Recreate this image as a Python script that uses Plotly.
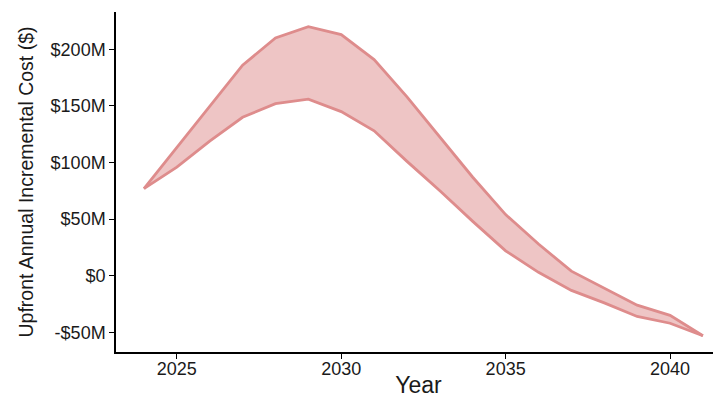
import plotly.graph_objects as go

years = list(range(2024, 2042))
upper = [77, 113, 149, 186, 210, 220, 213, 191, 158, 123, 87, 54, 28, 4, -11, -26, -35, -53]
lower = [77, 96, 119, 140, 152, 156, 145, 128, 101, 75, 48, 22, 3, -13, -24, -36, -42, -53]
ytick_vals = [-50, 0, 50, 100, 150, 200]
ytick_text = ["-$50M", "$0", "$50M", "$100M", "$150M", "$200M"]
xtick_vals = [2025, 2030, 2035, 2040]

line_col = "#DE8C8C"
fill_col = "rgba(222,140,140,0.5)"

fig = go.Figure()
fig.add_trace(go.Scatter(x=years, y=lower, mode="lines",
                         line=dict(color=line_col, width=2.8), showlegend=False))
fig.add_trace(go.Scatter(x=years, y=upper, mode="lines", fill="tonexty",
                         fillcolor=fill_col,
                         line=dict(color=line_col, width=2.8), showlegend=False))

font_family = "Liberation Sans, Arial, sans-serif"
fig.update_layout(
    width=713, height=390,
    margin=dict(l=108, r=0, t=4, b=46, autoexpand=False),
    paper_bgcolor="white", plot_bgcolor="white",
    font=dict(family=font_family, color="#1a1a1a", size=18),
    xaxis=dict(range=[2023.15, 2041.55], tickvals=xtick_vals,
               showgrid=False, zeroline=False, showline=True,
               linecolor="black", linewidth=1.5, ticks="outside",
               ticklen=5, tickcolor="black", tickwidth=1.2,
               tickfont=dict(size=18), automargin=False,
               ticklabelstandoff=-5,
               title=dict(text="Year", font=dict(size=23), standoff=0)),
    yaxis=dict(range=[-67.4, 233], tickvals=ytick_vals, ticktext=ytick_text,
               showgrid=False, zeroline=False, showline=True,
               linecolor="black", linewidth=1.5, ticks="outside",
               ticklen=5, tickcolor="black", tickwidth=1.2,
               tickfont=dict(size=18), automargin=False,
               title=dict(text="Upfront Annual Incremental Cost ($)",
                          font=dict(size=19.5), standoff=12)),
)
fig.write_html("out.html")
